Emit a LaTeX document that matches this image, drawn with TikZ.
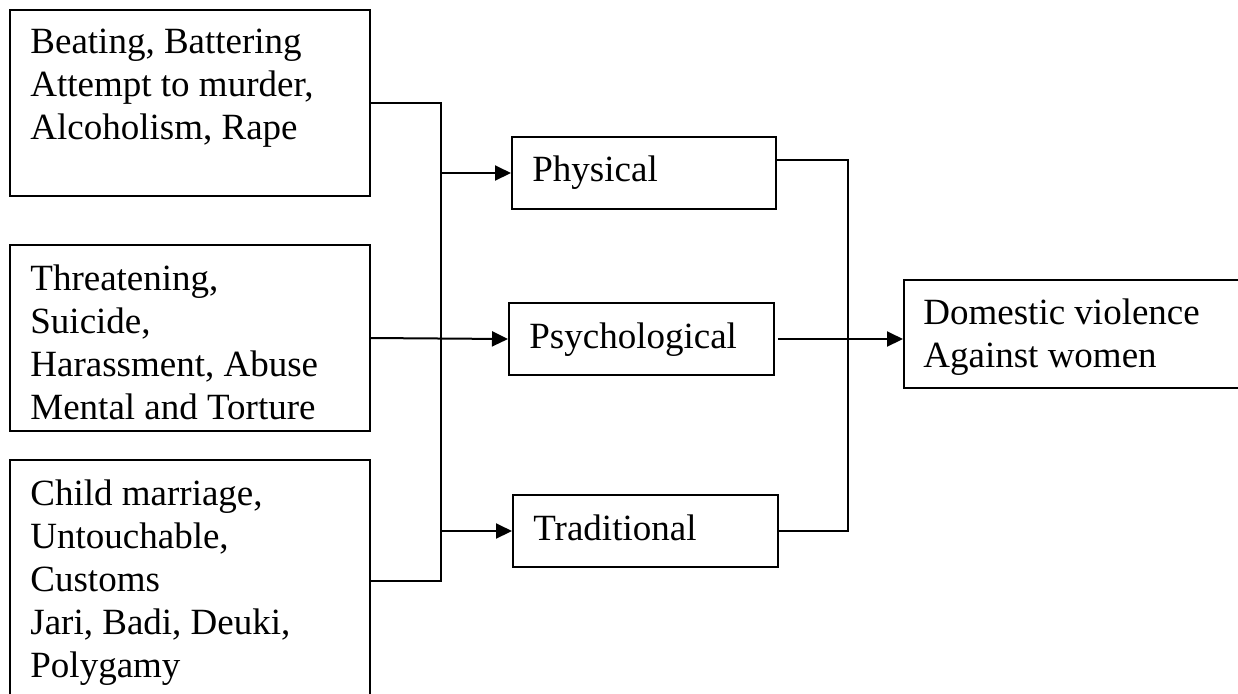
\documentclass[tikz,border=0pt]{standalone}
\usepackage{fontspec}
\setmainfont{Liberation Serif}
\usetikzlibrary{arrows.meta}

\tikzset{
  box/.style={draw, line width=1pt, anchor=north west, inner sep=0pt},
  txt/.style={anchor=north west, inner sep=0pt, align=left, font=\fontsize{18.5}{21.5}\selectfont},
  link/.style={line width=1pt},
  arr/.style={line width=1pt, -{Triangle[length=8pt,width=7.5pt]}}
}

\begin{document}
\begin{tikzpicture}[x=0.5pt,y=0.5pt,yscale=-1,xscale=1]
\useasboundingbox (0,0) rectangle (1238,693);

% Cause boxes
\node [box, minimum width=180pt, minimum height=93pt] (b1) at (9,9) {};
\node [box, minimum width=180pt, minimum height=93pt] (b2) at (9,244) {};
\node [box, minimum width=180pt, minimum height=121pt] (b3) at (9,459) {};
% Type boxes
\node [box, minimum width=132pt, minimum height=36pt] (phys) at (511,136) {};
\node [box, minimum width=132.5pt, minimum height=36pt] (psych) at (508,302) {};
\node [box, minimum width=132.5pt, minimum height=36pt] (trad) at (512,494) {};
% Result box
\node [box, minimum width=170pt, minimum height=54pt] (dom) at (903,279) {};

% Text Node
\node [txt] (b1text) at (30,29) {Beating, Battering\\Attempt to murder,\\Alcoholism, Rape};
% Text Node
\node [txt] (b2text) at (30,264) {Threatening,\\Suicide,\\Harassment, Abuse\\Mental and Torture};
% Text Node
\node [txt] (b3text) at (30,479) {Child marriage,\\Untouchable,\\Customs\\Jari, Badi, Deuki,\\Polygamy};
% Text Node
\node [txt] (phystext) at (532,155) {Physical};
% Text Node
\node [txt] (psychtext) at (529,322) {Psychological};
% Text Node
\node [txt] (tradtext) at (533,514) {Traditional};
% Text Node
\node [txt] (domtext) at (923,298) {Domestic violence\\Against women};

% Junctions
\coordinate (jl) at (441,0);
\coordinate (jr) at (848,0);

% Left connectors
\draw [link] (b1.east) -| (jl |- b3.east) -- (b3.east);
\draw [arr] (jl |- phys.west) -- (phys.west);
\draw [arr] (b2.east) -- (psych.west);
\draw [arr] (jl |- trad.west) -- (trad.west);

% Right connectors
\draw [link] (phys.east |- 0,160) -| (jr |- trad.east) -- (trad.east);
\draw [arr, shorten <=1.5pt] (psych.east) -- (psych.east -| dom.west);

\end{tikzpicture}
\end{document}
